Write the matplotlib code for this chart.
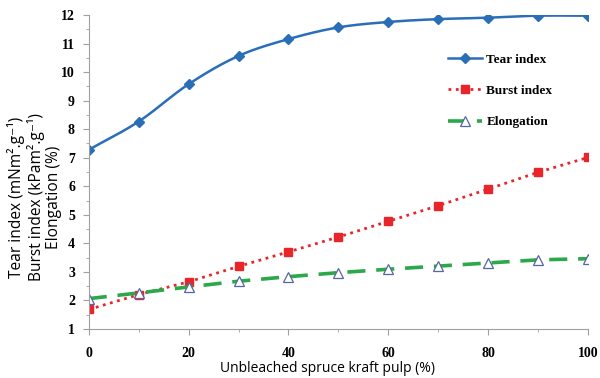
import numpy as np
import matplotlib.pyplot as plt
from matplotlib.ticker import MultipleLocator

# Pulp blend (%) and measured paper properties
pulp = [0, 10, 20, 30, 40, 50, 60, 70, 80, 90, 100]
tear = [7.28, 8.27, 9.58, 10.57, 11.16, 11.57, 11.76, 11.86, 11.91, 11.98, 11.98]
burst = [1.68, 2.20, 2.65, 3.19, 3.70, 4.22, 4.77, 5.32, 5.90, 6.49, 7.01]
elong = [2.06, 2.26, 2.47, 2.67, 2.83, 2.97, 3.09, 3.20, 3.31, 3.42, 3.46]


def smooth(x, y, n=20):
    # Catmull-Rom style curve through the points (like a spreadsheet "smoothed line")
    x = np.asarray(x, float)
    y = np.asarray(y, float)
    px = np.concatenate([[2 * x[0] - x[1]], x, [2 * x[-1] - x[-2]]])
    py = np.concatenate([[2 * y[0] - y[1]], y, [2 * y[-1] - y[-2]]])
    xs, ys = [], []
    t = np.linspace(0, 1, n, endpoint=False)
    for i in range(1, len(px) - 2):
        for p, out in ((px, xs), (py, ys)):
            p0, p1, p2, p3 = p[i - 1], p[i], p[i + 1], p[i + 2]
            out.extend(0.5 * ((2 * p1) + (-p0 + p2) * t
                              + (2 * p0 - 5 * p1 + 4 * p2 - p3) * t ** 2
                              + (-p0 + 3 * p1 - 3 * p2 + p3) * t ** 3))
    xs.append(x[-1])
    ys.append(y[-1])
    return xs, ys


fig = plt.figure(figsize=(6, 3.78), dpi=100)
ax = fig.add_axes([0.148, 0.13, 0.832, 0.83])

blue = '#2A6EB8'
red = '#E8262A'
green = '#2AA84A'

sx, sy = smooth(pulp, tear)
ax.plot(sx, sy, color=blue, lw=1.8)
ax.plot(pulp, tear, ls='none', marker='D', ms=5, color=blue)
ax.plot(pulp, burst, ls=':', lw=2.0, color=red, marker='s', ms=6)
ax.plot(pulp, elong, ls=(0, (5, 3)), lw=2.6, color=green, marker='^', ms=7,
        mfc='white', mec='#5566A0', mew=0.9)

# legend proxies (line + marker together)
h1, = ax.plot([], [], color=blue, lw=1.8, marker='D', ms=5)
h2, = ax.plot([], [], color=red, ls=':', lw=2.0, marker='s', ms=6)
h3, = ax.plot([], [], color=green, ls=(0, (5, 3)), lw=2.6, marker='^', ms=7,
              mfc='white', mec='#5566A0', mew=0.9)
fig.legend([h1, h2, h3], ['Tear index', 'Burst index', 'Elongation'],
           loc='upper left', bbox_to_anchor=(0.727, 0.89), frameon=False,
           prop={'family': 'Liberation Serif', 'weight': 'bold', 'size': 9.5},
           handlelength=2.6, labelspacing=1.45, handletextpad=0.3)

ax.set_xlim(0, 100)
ax.set_ylim(1, 12)
ax.xaxis.set_major_locator(MultipleLocator(20))
ax.xaxis.set_minor_locator(MultipleLocator(10))
ax.yaxis.set_major_locator(MultipleLocator(1))
ax.yaxis.set_minor_locator(MultipleLocator(0.5))
for s in ['top', 'right']:
    ax.spines[s].set_visible(False)
for s in ['left', 'bottom']:
    ax.spines[s].set_color('#A0A0A0')
ax.tick_params(which='both', color='#A0A0A0')
ax.tick_params(which='major', length=4)
ax.tick_params(which='minor', length=2)
ax.tick_params(axis='x', pad=9)
ax.tick_params(axis='y', pad=6)
for lab in ax.get_xticklabels() + ax.get_yticklabels():
    lab.set_fontfamily('Liberation Serif')
    lab.set_fontweight('bold')
    lab.set_fontsize(10)

ax.set_xlabel('Unbleached spruce kraft pulp (%)', fontfamily='Open Sans',
              fontsize=10, va='center')
ax.xaxis.set_label_coords(0.479, -0.125)
fig.text(0.058, 0.478,
         'Tear index (mNm\u00b2.g\u207b\u00b9)\nBurst index (kPam\u00b2.g\u207b\u00b9)\nElongation (%)',
         rotation=90, ha='center', va='center', multialignment='center',
         family=['Open Sans', 'DejaVu Sans'], fontsize=11.2, linespacing=1.12)

fig.savefig('out.png', dpi=100)
